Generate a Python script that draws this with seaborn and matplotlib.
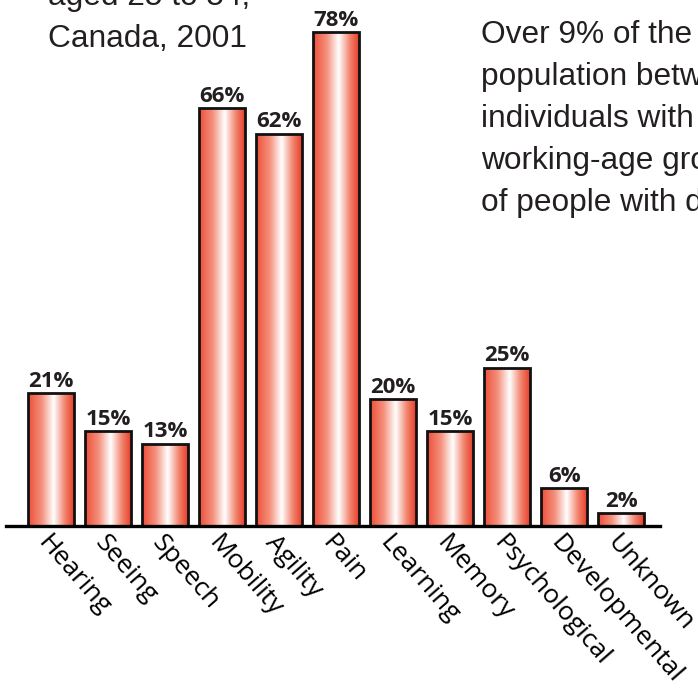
import numpy as np
import matplotlib
matplotlib.use("Agg")
import matplotlib.pyplot as plt
from matplotlib.colors import LinearSegmentedColormap
import seaborn as sns

categories = ["Hearing", "Seeing", "Speech", "Mobility", "Agility", "Pain",
              "Learning", "Memory", "Psychological", "Developmental", "Unknown"]
values = [21, 15, 13, 66, 62, 78, 20, 15, 25, 6, 2]
value_labels = [f"{v}%" for v in values]
left_note = ["aged 25 to 54,", "Canada, 2001"]
right_note = ["Over 9% of the", "population between", "individuals with",
              "working-age group", "of people with disabilities"]

sns.set_theme(style="white")
plt.rcParams["font.family"] = ["Open Sans", "DejaVu Sans"]

W, H = 698, 692
fig = plt.figure(figsize=(W / 100, H / 100), dpi=100)
base_px = 526
ax = fig.add_axes([6 / W, (H - base_px) / H, 654 / W, base_px / H])

sns.barplot(x=categories, y=values, ax=ax, color="#e8412c", width=0.8,
            saturation=1)

cmap = LinearSegmentedColormap.from_list(
    "grad", [(0.0, "#ee4e39"), (0.3, "#f4917d"), (0.56, "#ffffff"),
             (0.8, "#f28670"), (1.0, "#e73f2a")])
grad = np.linspace(0, 1, 256).reshape(1, -1)
for p in list(ax.patches):
    x0, y0 = p.get_x(), p.get_y()
    w, h = p.get_width(), p.get_height()
    im = ax.imshow(grad, cmap=cmap, aspect="auto",
                   extent=(x0, x0 + w, y0, y0 + h), zorder=2,
                   interpolation="bicubic")
    im.set_clip_path(p)
    p.set_facecolor("none")
    p.set_edgecolor("#111111")
    p.set_linewidth(2.0)
    p.set_zorder(3)
ax.set_xlim(-0.79, 10.68)
ax.set_ylim(0, base_px / 6.33)

ax.bar_label(ax.containers[0], labels=value_labels, padding=1,
             fontsize=16, fontweight="bold", color="#231f20")

for s in ["top", "left", "right"]:
    ax.spines[s].set_visible(False)
ax.spines["bottom"].set_linewidth(2.4)
ax.spines["bottom"].set_color("black")
ax.spines["bottom"].set_zorder(4)
ax.set_yticks([])
ax.tick_params(axis="x", length=0, pad=3)
ax.set_xlabel("")
ax.set_ylabel("")
for lbl in ax.get_xticklabels():
    lbl.set_rotation(-49)
    lbl.set_ha("left")
    lbl.set_va("top")
    lbl.set_rotation_mode("anchor")
    lbl.set_fontsize(19)
    lbl.set_color("black")

for i, line in enumerate(left_note):
    fig.text(48 / W, 1 - (47 - 42 * (len(left_note) - 1 - i)) / H, line,
             fontsize=22.8, color="#231f20", family="Liberation Sans",
             ha="left", va="baseline")
for i, line in enumerate(right_note):
    fig.text(481 / W, 1 - (43 + 42 * i) / H, line,
             fontsize=22.8, color="#231f20", family="Liberation Sans",
             ha="left", va="baseline")

fig.savefig("out.png", dpi=100)
